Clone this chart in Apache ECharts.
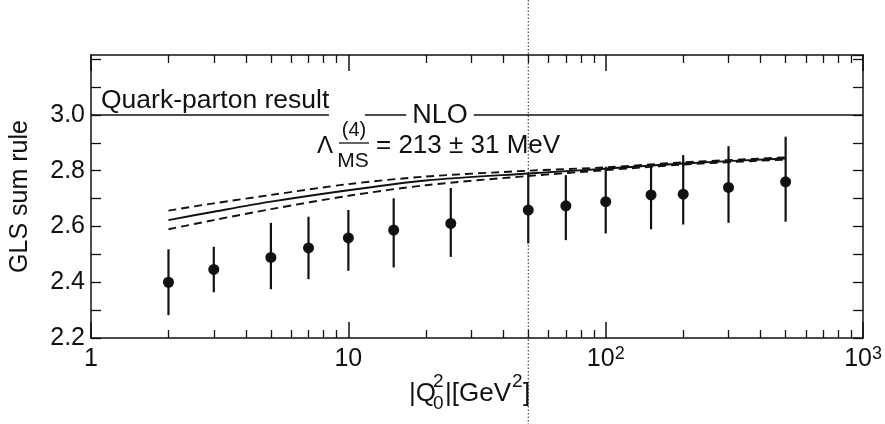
<!DOCTYPE html>
<html>
<head>
<meta charset="utf-8">
<script src="https://cdn.jsdelivr.net/npm/echarts@6/dist/echarts.min.js"></script>
<style>
html,body{margin:0;padding:0;background:#fff;}
#chart{width:885px;height:424px;}
</style>
</head>
<body>
<div id="chart"></div>
<script>
// ---- data ----
const q2Points   = [2, 3, 5, 7, 10, 15, 25, 50, 70, 100, 150, 200, 300, 500];
const glsValues  = [2.400, 2.446, 2.489, 2.523, 2.559, 2.587, 2.611, 2.659, 2.674, 2.689, 2.713, 2.716, 2.740, 2.760];
const glsErrLow  = [2.282, 2.364, 2.375, 2.411, 2.441, 2.453, 2.491, 2.539, 2.551, 2.575, 2.590, 2.607, 2.613, 2.617];
const glsErrHigh = [2.518, 2.527, 2.613, 2.635, 2.659, 2.701, 2.738, 2.790, 2.784, 2.814, 2.820, 2.856, 2.888, 2.922];

const curveQ2    = [2, 3, 5, 10, 20, 50, 100, 200, 500];
const nloUpper   = [2.657, 2.683, 2.713, 2.752, 2.779, 2.800, 2.812, 2.830, 2.848];
const nloCentral = [2.623, 2.653, 2.689, 2.730, 2.765, 2.790, 2.807, 2.826, 2.844];
const nloLower   = [2.590, 2.623, 2.662, 2.710, 2.748, 2.781, 2.802, 2.822, 2.840];

const quarkPartonValue = 3.0;
const qpLineQ2  = [1, 8.4];
const nloLineQ2 = [11.6, 1000];
const markerQ2  = 50;

const xMajorTicks = [1, 10, 100, 1000];
const xMinorTicks = [2,3,4,5,6,7,8,9,20,30,40,50,60,70,80,90,200,300,400,500,600,700,800,900];
const yTickLabels = ['2.2', '2.4', '2.6', '2.8', '3.0'];

// ---- chart ----
const FONT = '"Liberation Sans", Arial, Helvetica, sans-serif';
const chart = echarts.init(document.getElementById('chart'), null, {renderer: 'canvas'});

const zip = (xs, ys) => xs.map((x, i) => [x, ys[i]]);
const black = '#111';

function xLabel(v) {
  const e = Math.round(Math.log10(v));
  if (e === 0) return '1';
  if (e === 1) return '10';
  return '10{sup|' + e + '}';
}

const baseX = {
  type: 'log', logBase: 10, min: 1, max: 1000, gridIndex: 0,
  splitLine: {show: false}, minorTick: {show: false}, minorSplitLine: {show: false}
};

const txt = (id, x, y, text, size, align, extra) => ({
  id: id, type: 'text', x: x, y: y, z: 10,
  style: Object.assign({text: text, font: size + 'px ' + FONT, fill: black,
    align: align, verticalAlign: 'middle', textAlign: align, textVerticalAlign: 'middle'}, extra || {})
});

const option = {
  animation: false,
  backgroundColor: '#fff',
  grid: {left: 88, right: 19, top: 55, bottom: 86, containLabel: false},
  xAxis: [
    Object.assign({}, baseX, {
      position: 'bottom',
      axisLine: {show: true, lineStyle: {color: black, width: 1.5}},
      axisTick: {show: true, inside: true, length: 16, lineStyle: {color: black, width: 1.5}, customValues: xMajorTicks},
      axisLabel: {
        show: true, margin: 7, color: black, fontFamily: FONT, fontSize: 25, lineHeight: 28,
        customValues: xMajorTicks,
        formatter: xLabel,
        rich: {sup: {fontFamily: FONT, fontSize: 18, lineHeight: 14, verticalAlign: 'top', color: black}}
      }
    }),
    Object.assign({}, baseX, {
      position: 'bottom',
      axisLine: {show: false},
      axisTick: {show: true, inside: true, length: 8, lineStyle: {color: black, width: 1.3}, customValues: xMinorTicks},
      axisLabel: {show: false}
    }),
    Object.assign({}, baseX, {
      position: 'top',
      axisLine: {show: true, lineStyle: {color: black, width: 1.5}},
      axisTick: {show: true, inside: true, length: 16, lineStyle: {color: black, width: 1.5}, customValues: xMajorTicks},
      axisLabel: {show: false}
    }),
    Object.assign({}, baseX, {
      position: 'top',
      axisLine: {show: false},
      axisTick: {show: true, inside: true, length: 8, lineStyle: {color: black, width: 1.3}, customValues: xMinorTicks},
      axisLabel: {show: false}
    })
  ],
  yAxis: [
    {
      type: 'value', position: 'left', min: 2.2, max: 3.215, interval: 0.1,
      name: 'GLS sum rule', nameLocation: 'middle', nameGap: 58, nameRotate: 90,
      nameTextStyle: {fontFamily: FONT, fontSize: 25, color: black},
      axisLine: {show: true, lineStyle: {color: black, width: 1.5}},
      axisTick: {show: true, inside: true, length: 10, lineStyle: {color: black, width: 1.3}},
      splitLine: {show: false},
      axisLabel: {
        show: true, margin: 6, color: black, fontFamily: FONT, fontSize: 25,
        showMaxLabel: false,
        formatter: function (v) {
          const s = (Math.round(v * 10) / 10).toFixed(1);
          return (yTickLabels.indexOf(s) >= 0 && Math.abs(v * 10 - Math.round(v * 10)) < 1e-6) ? s : '';
        }
      }
    },
    {
      type: 'value', position: 'right', min: 2.2, max: 3.215, interval: 0.1,
      axisLine: {show: true, lineStyle: {color: black, width: 1.5}},
      axisTick: {show: true, inside: true, length: 10, lineStyle: {color: black, width: 1.3}},
      splitLine: {show: false},
      axisLabel: {show: false}
    }
  ],
  series: [
    {
      name: 'Quark-parton result', type: 'line', xAxisIndex: 0, yAxisIndex: 0,
      data: qpLineQ2.map(x => [x, quarkPartonValue]), symbol: 'none',
      lineStyle: {color: black, width: 1.4}
    },
    {
      name: 'NLO', type: 'line', xAxisIndex: 0, yAxisIndex: 0,
      data: nloLineQ2.map(x => [x, quarkPartonValue]), symbol: 'none',
      lineStyle: {color: black, width: 1.4}
    },
    {
      name: 'upper', type: 'line', data: zip(curveQ2, nloUpper), symbol: 'none', smooth: 0.3,
      lineStyle: {color: black, width: 1.9, type: [8, 5]}
    },
    {
      name: 'central', type: 'line', data: zip(curveQ2, nloCentral), symbol: 'none', smooth: 0.3,
      lineStyle: {color: black, width: 1.9}
    },
    {
      name: 'lower', type: 'line', data: zip(curveQ2, nloLower), symbol: 'none', smooth: 0.3,
      lineStyle: {color: black, width: 1.9, type: [8, 5]}
    },
    {
      name: 'errors', type: 'custom', xAxisIndex: 0, yAxisIndex: 0,
      data: q2Points.map((x, i) => [x, glsErrLow[i], glsErrHigh[i]]),
      renderItem: function (params, api) {
        const lo = api.coord([api.value(0), api.value(1)]);
        const hi = api.coord([api.value(0), api.value(2)]);
        return {
          type: 'line',
          shape: {x1: lo[0], y1: lo[1], x2: hi[0], y2: hi[1]},
          style: {stroke: black, lineWidth: 2.2}
        };
      },
      z: 3
    },
    {
      name: 'GLS', type: 'scatter', data: zip(q2Points, glsValues),
      symbol: 'circle', symbolSize: 11, itemStyle: {color: black, opacity: 1}, z: 4
    }
  ],
  graphic: {
    elements: [
      txt('qp', 101, 101, 'Quark-parton result', 26.5, 'left'),
      txt('nlo', 440, 116, 'NLO', 27, 'center', {backgroundColor: '#fff', padding: [0, 6]}),
      txt('lam', 317, 146, 'Λ', 24, 'left'),
      txt('four', 354, 130, '(4)', 20, 'center'),
      {id: 'bar', type: 'line', z: 10, shape: {x1: 339, y1: 143, x2: 369, y2: 143}, style: {stroke: black, lineWidth: 1.3}},
      txt('ms', 353, 161, 'MS', 21, 'center'),
      txt('eq', 376, 146, '= 213 ± 31 MeV', 26, 'left'),
      // x-axis title |Q0^2|[GeV^2]
      txt('xn1', 409, 394, '|Q', 26, 'left'),
      txt('xn2', 433, 382, '2', 19, 'left'),
      txt('xn3', 433, 404, '0', 19, 'left'),
      txt('xn4', 445, 394, '|[GeV', 26, 'left'),
      txt('xn5', 512, 382, '2', 19, 'left'),
      txt('xn6', 523, 394, ']', 26, 'left')
    ]
  }
};

chart.setOption(option);

// dotted vertical marker through the whole picture at Q^2 = 50, placed via the x scale
const px = chart.convertToPixel({xAxisIndex: 0}, markerQ2);
chart.setOption({
  graphic: {
    elements: [
      {id: 'vline', type: 'line', z: 20, silent: true,
        shape: {x1: px, y1: 0, x2: px, y2: 424},
        style: {stroke: '#222', lineWidth: 1, lineDash: [1.5, 2]}}
    ]
  }
});
</script>
</body>
</html>
